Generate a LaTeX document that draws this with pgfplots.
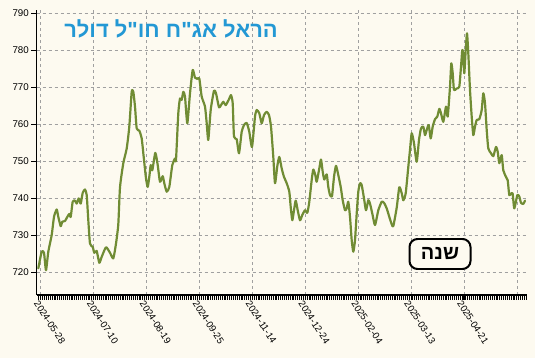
\documentclass[border=0pt]{standalone}
\usepackage{pgfplots}
\pgfplotsset{compat=1.18}
\usepackage{pgfplotstable}
\usepackage{fontspec}
\setmainfont{Liberation Sans}
\newfontfamily\hebfont[Script=Hebrew]{Liberation Sans}
\TeXXeTstate=1
\definecolor{bg}{RGB}{253,250,240}
\definecolor{linegreen}{RGB}{112,140,52}
\definecolor{titleblue}{RGB}{35,152,212}
\definecolor{gridgray}{RGB}{160,160,160}

\pgfplotstableread{
px v
38.3 721.1
41.7 725.6
44.0 725.3
46.0 720.6
48.3 725.6
51.7 730.1
54.0 735.0
56.7 737.0
58.3 735.0
60.7 732.5
62.3 733.7
65.0 733.9
67.3 735.0
69.3 735.8
70.7 735.0
72.7 739.1
75.0 739.4
76.7 738.6
78.7 740.0
80.7 738.6
82.7 741.5
85.0 742.4
86.7 740.9
88.3 734.1
90.0 727.8
92.7 726.9
94.3 725.3
96.7 725.8
99.3 722.6
101.7 724.2
106.0 726.8
110.0 725.3
113.3 723.8
116.0 727.8
118.3 733.0
120.0 743.0
123.3 749.5
126.7 753.5
129.3 759.4
131.7 768.8
133.3 768.8
135.0 764.8
136.7 758.9
139.3 758.3
141.7 756.2
144.0 750.4
146.0 745.4
147.7 743.1
149.3 745.8
150.7 749.0
152.3 747.6
155.3 752.3
157.7 749.0
160.0 744.5
162.7 746.0
164.3 744.1
166.7 741.8
169.3 743.1
172.3 749.0
175.0 750.8
176.0 750.4
178.3 763.0
180.0 767.0
181.7 766.6
183.3 768.8
185.0 767.5
187.3 760.3
190.0 768.4
192.7 774.7
195.0 772.6
197.3 772.3
199.3 772.4
201.7 767.5
205.0 764.8
206.7 760.3
208.3 755.8
210.7 763.9
214.0 769.1
216.0 768.4
219.0 764.6
221.0 765.2
223.3 766.1
225.7 765.2
229.0 766.8
231.0 767.9
232.7 765.7
234.0 756.7
236.7 756.0
239.0 752.2
241.7 758.0
244.0 759.8
246.7 760.4
249.3 758.0
252.0 753.9
255.0 762.1
256.7 763.9
259.3 763.0
261.7 760.3
264.0 762.5
266.7 763.4
269.0 762.5
271.0 759.4
273.3 751.2
275.0 744.1
277.3 748.7
279.3 751.2
281.7 748.1
284.0 745.8
286.7 744.1
289.3 741.8
290.7 737.7
292.3 734.1
294.0 736.8
295.7 739.4
297.7 736.8
300.0 734.1
302.3 735.5
305.0 736.8
307.3 736.1
309.3 739.1
311.7 745.0
313.3 747.8
315.3 746.3
316.7 744.5
319.3 748.1
321.0 750.5
322.7 747.2
324.3 745.1
326.7 746.5
328.3 743.1
330.0 740.9
332.0 740.6
334.0 745.8
336.0 748.8
338.3 746.3
340.7 743.1
342.7 739.5
345.0 736.8
346.7 737.3
348.3 739.1
350.0 735.0
351.7 728.7
353.3 725.6
355.0 728.7
356.7 735.9
358.3 741.8
360.0 744.1
361.7 743.6
364.0 740.0
366.0 736.8
368.3 739.5
370.0 738.6
372.3 735.9
375.0 732.8
378.3 736.8
381.7 739.1
384.0 738.8
386.7 737.3
389.3 735.0
391.7 733.0
393.3 732.5
396.7 737.5
399.3 743.0
401.7 741.4
403.3 739.5
405.7 741.4
408.3 748.5
410.0 753.1
411.7 757.6
414.0 754.9
416.7 749.9
419.0 755.8
421.0 758.9
423.3 759.4
425.0 757.1
426.7 758.5
428.7 759.8
430.7 756.2
432.7 759.4
435.0 761.4
437.3 762.1
439.3 764.2
441.0 763.0
443.3 760.7
446.0 764.8
447.7 762.1
450.0 770.2
451.3 776.5
452.7 773.8
454.0 769.3
456.7 769.7
459.3 770.2
461.0 775.6
462.3 780.1
463.3 778.7
464.3 773.8
465.7 780.1
467.0 784.6
468.3 779.2
470.0 769.3
471.7 762.1
473.3 757.1
475.0 759.4
476.7 761.2
479.3 761.4
481.7 763.9
483.3 768.4
485.0 765.7
486.7 758.5
488.3 753.5
491.0 752.2
493.3 751.4
496.0 753.9
497.7 752.6
499.3 749.5
501.7 751.7
503.3 747.6
506.0 745.8
507.7 744.9
509.3 740.9
511.7 741.4
512.7 741.2
514.3 737.3
517.3 740.9
519.3 740.5
521.0 738.8
523.3 738.5
525.0 739.4
}\prices

\begin{document}
\begin{tikzpicture}
\fill[bg] (0,0) rectangle (535bp,358bp);
\path[use as bounding box] (0,0) rectangle (535bp,358bp);
\begin{axis}[
  at={(36.5bp,63bp)}, anchor=south west,
  scale only axis, width=490.5bp, height=285bp,
  xmin=36.5, xmax=527, ymin=713.9, ymax=790.9,
  axis x line=bottom, axis y line=left,
  axis line style={-, black, line width=1.1pt},
  xtick={40.7,93.6,146.5,199.4,252.3,305.2,358.1,411.0,463.9,516.8},
  xticklabels={2024-05-28,2024-07-10,2024-08-19,2024-09-25,2024-11-14,2024-12-24,2025-02-04,2025-03-13,2025-04-21,},
  minor xtick={38.811,40.7,...,527},
  ytick={720,730,...,790},
  tick align=outside,
  major tick length=5bp, minor tick length=4.5bp,
  tick style={black, line width=0.8pt},
  grid=major,
  major grid style={gridgray, line width=0.6pt, dash pattern=on 3bp off 3bp},
  /pgf/number format/assume math mode=true,
  /pgf/number format/1000 sep={},
  yticklabel style={font=\fontsize{9.8}{11}\selectfont, inner sep=2.5bp},
  xticklabel style={font=\fontsize{9.6}{11}\selectfont, rotate=-57, anchor=north west, inner sep=1bp, xshift=-2bp},
]
\addplot[linegreen, line width=2.2pt, smooth, tension=0.35, line join=round, line cap=round] table[x=px, y=v] {\prices};
\end{axis}
\node[text=titleblue, font=\hebfont\bfseries\fontsize{22}{25}\selectfont, anchor=center] at (171bp,329bp) {\beginR הראל אג"ח חו"ל דולר\endR};
\node[draw=black, line width=2pt, rounded corners=8bp, fill=bg, minimum width=61bp, minimum height=30bp, inner sep=0pt, font=\hebfont\bfseries\fontsize{20}{22}\selectfont] at (440bp,104bp) {\beginR שנה\endR};
\end{tikzpicture}
\end{document}
